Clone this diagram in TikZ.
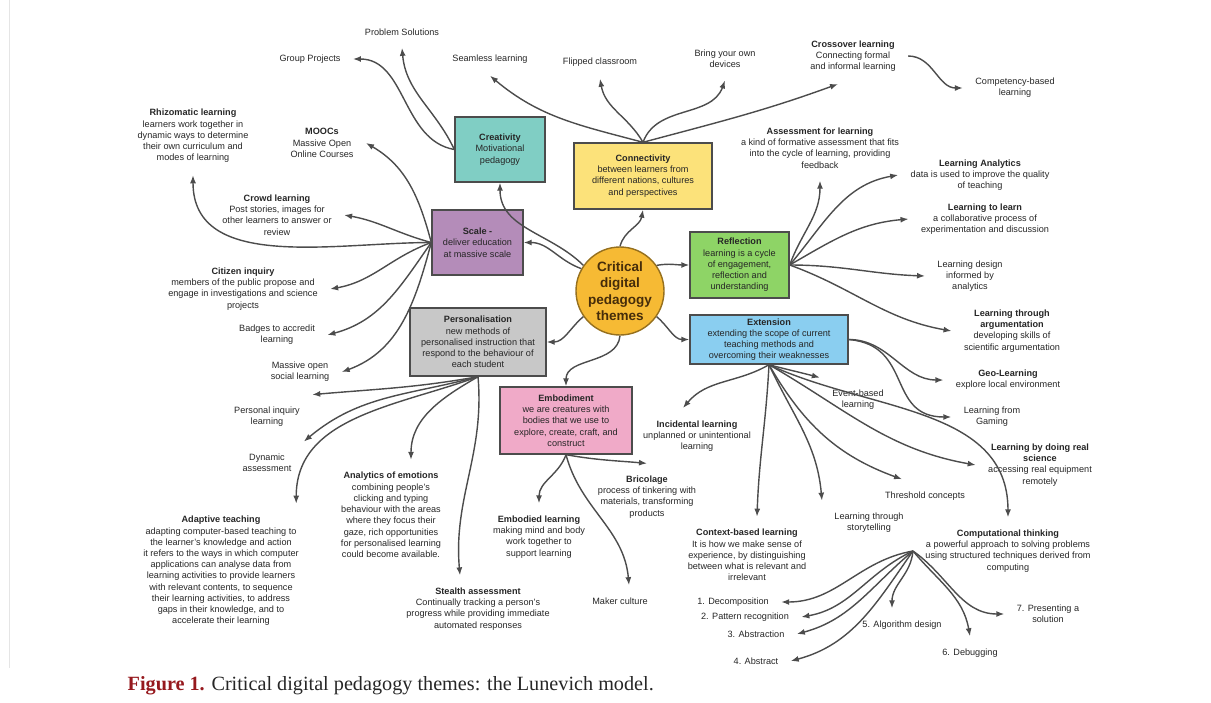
\documentclass[tikz,border=0pt]{standalone}
\usepackage{fontspec}
\setmainfont{Liberation Serif}
\setsansfont{Liberation Sans}
\usetikzlibrary{arrows.meta}

\definecolor{critcol}{RGB}{246,186,52}
\definecolor{critline}{RGB}{150,112,30}
\definecolor{critext}{RGB}{70,45,10}
\definecolor{creatcol}{RGB}{128,206,196}
\definecolor{conncol}{RGB}{252,226,122}
\definecolor{scalecol}{RGB}{180,140,185}
\definecolor{reflcol}{RGB}{142,212,102}
\definecolor{extcol}{RGB}{138,206,240}
\definecolor{perscol}{RGB}{200,200,200}
\definecolor{embodcol}{RGB}{240,170,200}
\definecolor{figred}{RGB}{150,25,30}
\newcommand{\mapfont}{\sffamily\fontsize{5.2}{6.4}\selectfont}

\begin{document}
\begin{tikzpicture}[x=0.2mm,y=0.2mm,line width=0.8pt,>={Latex[length=1.6mm,width=1.2mm]},
  theme/.style={draw=black!70,line width=0.8pt,align=center,font=\mapfont,text=black!85,inner sep=0.5mm},
  leaf/.style={align=center,font=\mapfont,text=black!85,inner sep=0.5mm,outer sep=2mm},
  link/.style={->,draw=black!70}]
  \useasboundingbox (0,0) rectangle (1211,-702);
  \draw[black!10,line width=0.5pt] (9,0) -- (9,-668);
  % central theme and the seven boxes
  \node[circle,draw=critline,fill=critcol,minimum size=17.6mm,inner sep=0pt,align=center,text=critext,
    font=\sffamily\bfseries\fontsize{7.7}{9.4}\selectfont] (crit) at (620,-291) {Critical\\digital\\pedagogy\\themes};
  \node[theme,fill=creatcol,minimum width=18mm,minimum height=13mm] (creat) at (500,-149.5) {\textbf{Creativity}\\Motivational\\pedagogy};
  \node[theme,fill=conncol,minimum width=27.6mm,minimum height=13.2mm] (conn) at (643,-176) {\textbf{Connectivity}\\between learners from\\different nations, cultures\\and perspectives};
  \node[theme,fill=scalecol,minimum width=18.2mm,minimum height=13mm] (scal) at (477.5,-242.5) {\textbf{Scale -}\\deliver education\\at massive scale};
  \node[theme,fill=reflcol,minimum width=19.8mm,minimum height=13.2mm] (refl) at (739.5,-265) {\textbf{Reflection}\\learning is a cycle\\of engagement,\\reflection and\\understanding};
  \node[theme,fill=extcol,minimum width=31.6mm,minimum height=9.8mm] (ext) at (769,-339.5) {\textbf{Extension}\\extending the scope of current\\teaching methods and\\overcoming their weaknesses};
  \node[theme,fill=perscol,minimum width=27.2mm,minimum height=13.6mm] (pers) at (478,-342) {\textbf{Personalisation}\\new methods of\\personalised instruction that\\respond to the behaviour of\\each student};
  \node[theme,fill=embodcol,minimum width=26.4mm,minimum height=13.4mm] (embod) at (566,-420.5) {\textbf{Embodiment}\\we are creatures with\\bodies that we use to\\explore, create, craft, and\\construct};
  \draw[link] (crit.145) to[out=135,in=-90] (creat.south);
  \draw[link] (crit.north) to[out=75,in=-100] (conn.south);
  \draw[link] (crit.150) to[out=160,in=0] (scal.east);
  \draw[link] (crit.35) to[out=10,in=180] (refl.west);
  \draw[link] (crit.-35) to[out=-40,in=180] (ext.west);
  \draw[link] (crit.-145) to[out=-140,in=0] (pers.east);
  \draw[link] (crit.south) to[out=-95,in=90] (embod.north);
  % creativity
  \node[leaf] (grp) at (310,-59) {Group Projects};
  \node[leaf] (prob) at (402,-32) {Problem Solutions};
  \draw[link] (creat.west) to[out=170,in=0] (grp.east);
  \draw[link] (creat.west) to[out=115,in=-85] (prob.south);
  % connectivity
  \node[leaf] (seam) at (490,-59) {Seamless learning};
  \node[leaf] (flip) at (600,-62) {Flipped classroom};
  \node[leaf] (byod) at (725,-59) {Bring your own\\devices};
  \node[leaf] (cross) at (853,-56) {\textbf{Crossover learning}\\Connecting formal\\and informal learning};
  \node[leaf] (cbl) at (1015,-88) {Competency-based\\learning};
  \draw[link] (conn.north) to[out=165,in=-40] (seam.south);
  \draw[link] (conn.north) to[out=120,in=-80] (flip.south);
  \draw[link] (conn.north) to[out=70,in=-110] (byod.south);
  \draw[link] (conn.north) to[out=15,in=-160] ([xshift=-3mm]cross.south);
  \draw[link] (cross.east) to[out=0,in=180] (cbl.west);
  % scale
  \node[leaf] (rhiz) at (193,-136) {\textbf{Rhizomatic learning}\\learners work together in\\dynamic ways to determine\\their own curriculum and\\modes of learning};
  \node[leaf] (mooc) at (322,-143) {\textbf{MOOCs}\\Massive Open\\Online Courses};
  \node[leaf] (crowd) at (277,-215) {\textbf{Crowd learning}\\Post stories, images for\\other learners to answer or\\review};
  \node[leaf] (citz) at (243,-289) {\textbf{Citizen inquiry}\\members of the public propose and\\engage in investigations and science\\projects};
  \node[leaf] (badge) at (277,-335) {Badges to accredit\\learning};
  \node[leaf] (msl) at (300,-372) {Massive open\\social learning};
  \draw[link] (scal.west) to[out=180,in=-90] (rhiz.south);
  \draw[link] (scal.west) to[out=105,in=-30] (mooc.east);
  \draw[link] (scal.west) to[out=165,in=-10] (crowd.east);
  \draw[link] (scal.west) to[out=-160,in=10] (citz.east);
  \draw[link] (scal.west) to[out=-125,in=15] (badge.east);
  \draw[link] (scal.west) to[out=-105,in=20] (msl.east);
  % personalisation
  \node[leaf] (pil) at (267,-417) {Personal inquiry\\learning};
  \node[leaf] (dyn) at (267,-463) {Dynamic\\assessment};
  \node[leaf] (emo) at (391,-515) {\textbf{Analytics of emotions}\\combining people's\\clicking and typing\\behaviour with the areas\\where they focus their\\gaze, rich opportunities\\for personalised learning\\could become available.};
  \node[leaf] (adapt) at (221,-571) {\textbf{Adaptive teaching}\\adapting computer-based teaching to\\the learner's knowledge and action\\it refers to the ways in which computer\\applications can analyse data from\\learning activities to provide learners\\with relevant contents, to sequence\\their learning activities, to address\\gaps in their knowledge, and to\\accelerate their learning};
  \node[leaf] (stealth) at (478,-609) {\textbf{Stealth assessment}\\Continually tracking a person's\\progress while providing immediate\\automated responses};
  \draw[link] (pers.south) to[out=190,in=5] (pil.north east);
  \draw[link] (pers.south) to[out=195,in=40] (dyn.north east);
  \draw[link] (pers.south) to[out=210,in=90] ([xshift=4mm]emo.north);
  \draw[link] (pers.south) to[out=200,in=90] ([xshift=-3mm]adapt.north east);
  \draw[link] (pers.south) to[out=-85,in=95] ([xshift=-3.6mm]stealth.north);
  % embodiment
  \node[leaf] (bric) at (647,-497) {\textbf{Bricolage}\\process of tinkering with\\materials, transforming\\products};
  \node[leaf] (embl) at (539,-537) {\textbf{Embodied learning}\\making mind and body\\work together to\\support learning};
  \node[leaf] (maker) at (620,-601) {Maker culture};
  \draw[link] (embod.south) to[out=-10,in=175] (bric.north);
  \draw[link] (embod.south) to[out=-110,in=90] (embl.north);
  \draw[link] (embod.south) to[out=-75,in=95] ([xshift=1.8mm]maker.north);
  % reflection
  \node[leaf] (afl) at (820,-148) {\textbf{Assessment for learning}\\a kind of formative assessment that fits\\into the cycle of learning, providing\\feedback};
  \node[leaf] (lan) at (980,-175) {\textbf{Learning Analytics}\\data is used to improve the quality\\of teaching};
  \node[leaf] (l2l) at (985,-219) {\textbf{Learning to learn}\\a collaborative process of\\experimentation and discussion};
  \node[leaf] (ldes) at (970,-276) {Learning design\\informed by\\analytics};
  \node[leaf] (lta) at (1012,-331) {\textbf{Learning through}\\\textbf{argumentation}\\developing skills of\\scientific argumentation};
  \draw[link] (refl.east) to[out=70,in=-90] (afl.south);
  \draw[link] (refl.east) to[out=50,in=190] (lan.west);
  \draw[link] (refl.east) to[out=30,in=185] (l2l.west);
  \draw[link] (refl.east) to[out=0,in=178] (ldes.west);
  \draw[link] (refl.east) to[out=-20,in=170] (lta.west);
  % extension
  \node[leaf] (incid) at (697,-436) {\textbf{Incidental learning}\\unplanned or unintentional\\learning};
  \node[leaf] (event) at (858,-400) {Event-based\\learning};
  \node[leaf] (geo) at (1008,-380) {\textbf{Geo-Learning}\\explore local environment};
  \node[leaf] (gaming) at (992,-417) {Learning from\\Gaming};
  \node[leaf] (lbd) at (1040,-465) {\textbf{Learning by doing real}\\\textbf{science}\\accessing real equipment\\remotely};
  \node[leaf] (thresh) at (925,-496) {Threshold concepts};
  \node[leaf] (story) at (869,-523) {Learning through\\storytelling};
  \node[leaf] (ctx) at (747,-555) {\textbf{Context-based learning}\\It is how we make sense of\\experience, by distinguishing\\between what is relevant and\\irrelevant};
  \node[leaf] (compt) at (1008,-551) {\textbf{Computational thinking}\\a powerful approach to solving problems\\using structured techniques derived from\\computing};
  \draw[link] (ext.south) to[out=-150,in=50] ([xshift=-2.8mm]incid.north);
  \draw[link] (ext.south) to[out=-15,in=165] (event.north west);
  \draw[link] (ext.east) to[out=0,in=180] (geo.west);
  \draw[link] (ext.east) to[out=-5,in=180,looseness=1.3] (gaming.west);
  \draw[link] (ext.south) to[out=-30,in=170] (lbd.west);
  \draw[link] (ext.south) to[out=-60,in=160] ([xshift=-4.6mm]thresh.north);
  \draw[link] (ext.south) to[out=-65,in=95] (story.north west);
  \draw[link] (ext.south) to[out=-93,in=88] ([xshift=2mm]ctx.north);
  \draw[link] (ext.south) to[out=-25,in=90] (compt.north);
  % computational thinking steps
  \node[leaf] (d1) at (733,-602) {1. Decomposition};
  \node[leaf] (d2) at (745,-617) {2. Pattern recognition};
  \node[leaf] (d3) at (756,-634) {3. Abstraction};
  \node[leaf] (d4) at (756,-661) {4. Abstract};
  \node[leaf] (d5) at (902,-625) {5. Algorithm design};
  \node[leaf] (d6) at (970,-653) {6. Debugging};
  \node[leaf] (d7) at (1048,-614) {7. Presenting a\\solution};
  \draw[link] (compt.west) to[out=190,in=0] (d1.east);
  \draw[link] (compt.west) to[out=205,in=10] (d2.east);
  \draw[link] (compt.west) to[out=220,in=15] (d3.east);
  \draw[link] (compt.west) to[out=235,in=15] (d4.east);
  \draw[link] (compt.west) to[out=-95,in=90] ([xshift=-2mm]d5.north);
  \draw[link] (compt.west) to[out=-50,in=100] (d6.north);
  \draw[link] (compt.west) to[out=-35,in=180] (d7.west);
  % caption
  \node[anchor=west,inner sep=0pt,font=\rmfamily\fontsize{11.5}{13}\selectfont,text=black!85] (cap) at (127,-686)
    {\textcolor{figred}{\textbf{Figure 1.}} Critical digital pedagogy themes: the Lunevich model.};
\end{tikzpicture}
\end{document}
